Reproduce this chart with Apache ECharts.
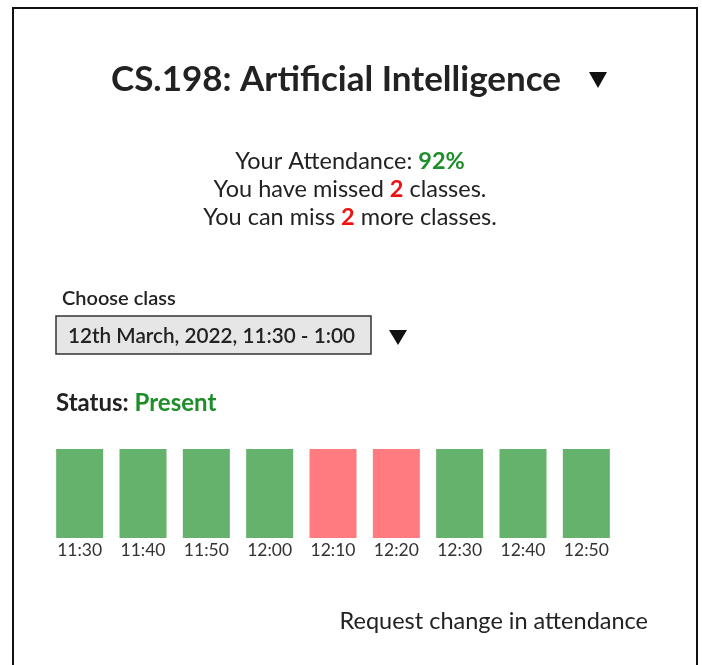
<!DOCTYPE html>
<html>
<head>
<meta charset="utf-8">
<script src="https://cdn.jsdelivr.net/npm/echarts@6/dist/echarts.min.js"></script>
<style>
html,body{margin:0;padding:0;background:#fff;}
#chart{width:702px;height:665px;}
</style>
</head>
<body>
<div id="chart"></div>
<script>
// ---- data ----
const classTimes = ['11:30','11:40','11:50','12:00','12:10','12:20','12:30','12:40','12:50'];
const sessionMarks = [1,1,1,1,1,1,1,1,1];
const presentFlags = [true,true,true,true,false,false,true,true,true];
const courseTitle = 'CS.198: Artificial Intelligence';
const attendancePct = '92%';
const missedCount = 2;
const canMissCount = 2;
const selectedClass = '12th March, 2022, 11:30 - 1:00';
const statusText = 'Present';

const GREEN = '#65b26d';
const RED = '#ff7b7f';
const TEXT_GREEN = '#1d8e29';
const TEXT_RED = '#f01212';
const FONT = 'Lato, "Open Sans", sans-serif';

const chart = echarts.init(document.getElementById('chart'), null, {renderer:'canvas'});

const barData = sessionMarks.map((v,i)=>({value:v,itemStyle:{color: presentFlags[i]?GREEN:RED}}));

chart.setOption({
  animation:false,
  backgroundColor:'#fff',
  grid:{left:48, width:570, top:449, bottom:127, containLabel:false},
  xAxis:{
    type:'category', data:classTimes,
    axisLine:{show:false}, axisTick:{show:false}, splitLine:{show:false},
    axisLabel:{color:'#333', fontSize:17.5, fontFamily:FONT, margin:3, interval:0}
  },
  yAxis:{type:'value', min:0, max:1, show:false},
  series:[{type:'bar', data:barData, barWidth:47, silent:true}],
  graphic:[
    // frame
    {type:'line', shape:{x1:13,y1:8,x2:13,y2:665}, style:{stroke:'#111',lineWidth:2}},
    {type:'line', shape:{x1:12,y1:8,x2:698,y2:8}, style:{stroke:'#111',lineWidth:2}},
    {type:'line', shape:{x1:697,y1:8,x2:697,y2:665}, style:{stroke:'#111',lineWidth:2}},
    // title
    {type:'text', x:336, y:80, style:{text:courseTitle, font:'bold 35px '+FONT, fill:'#222', align:'center', verticalAlign:'middle'}},
    {type:'polygon', shape:{points:[[589,72],[607,72],[598,88]]}, style:{fill:'#111'}},
    // attendance summary
    {type:'text', x:350, y:161, style:{
      text:'Your Attendance: {g|'+attendancePct+'}', align:'center', verticalAlign:'middle',
      font:'23.5px '+FONT, fill:'#222',
      rich:{g:{font:'bold 23.5px '+FONT, fill:TEXT_GREEN}}
    }},
    {type:'text', x:350, y:189, style:{
      text:'You have missed {r|'+missedCount+'} classes.', align:'center', verticalAlign:'middle',
      font:'23.5px '+FONT, fill:'#222',
      rich:{r:{font:'bold 23.5px '+FONT, fill:TEXT_RED}}
    }},
    {type:'text', x:350, y:217, style:{
      text:'You can miss {r|'+canMissCount+'} more classes.', align:'center', verticalAlign:'middle',
      font:'23.5px '+FONT, fill:'#222',
      rich:{r:{font:'bold 23.5px '+FONT, fill:TEXT_RED}}
    }},
    // chooser
    {type:'text', x:62, y:299, style:{text:'Choose class', font:'600 20px '+FONT, fill:'#222', align:'left', verticalAlign:'middle'}},
    {type:'rect', shape:{x:56,y:316,width:315,height:38}, style:{fill:'#e6e6e6', stroke:'#333', lineWidth:1.5}},
    {type:'text', x:68, y:336, style:{text:selectedClass, font:'600 20.7px '+FONT, fill:'#222', align:'left', verticalAlign:'middle'}},
    {type:'polygon', shape:{points:[[389,330],[407,330],[398,345]]}, style:{fill:'#111'}},
    // status
    {type:'text', x:56, y:403, style:{
      text:'Status: {g|'+statusText+'}', align:'left', verticalAlign:'middle',
      font:'bold 24px '+FONT, fill:'#222',
      rich:{g:{font:'bold 24px '+FONT, fill:TEXT_GREEN}}
    }},
    // request link
    {type:'text', x:648, y:621, style:{text:'Request change in attendance', font:'23.5px '+FONT, fill:'#222', align:'right', verticalAlign:'middle'}}
  ]
});
</script>
</body>
</html>
